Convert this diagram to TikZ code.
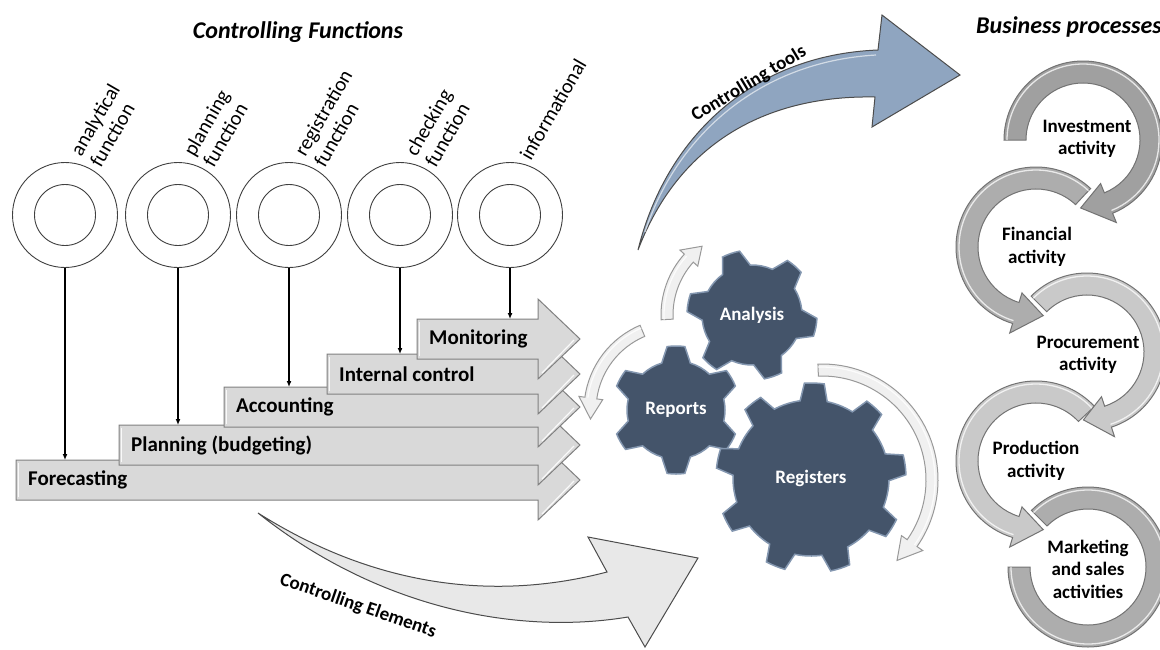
\documentclass[tikz,border=0pt]{standalone}
\usepackage{fontspec}
\setmainfont{Carlito}
\usetikzlibrary{arrows.meta}
\definecolor{gearblue}{HTML}{44546A}
\definecolor{gearedge}{HTML}{8497B0}
\definecolor{toolblue}{HTML}{8FA5C0}
\definecolor{barfill}{HTML}{D9D9D9}
\definecolor{baredge}{HTML}{808080}
\definecolor{ringdark}{HTML}{A0A0A0}
\definecolor{ringmid}{HTML}{ADADAD}
\definecolor{ringlight}{HTML}{C9C9C9}
\definecolor{elemfill}{HTML}{E8E8E8}

\tikzset{
  fcirc/.style={circle, draw=black!75, line width=0.9pt, minimum size=105pt, inner sep=0pt},
  icirc/.style={circle, draw=black!75, line width=0.9pt, minimum size=61pt, inner sep=0pt},
  conn/.style={draw=black, line width=1.2pt, -{Latex[length=6pt,width=5pt]}},
  flabel/.style={rotate=60, anchor=south west, align=left, inner sep=0pt, font=\fontsize{20.5}{22.5}\selectfont},
  barshape/.style={fill=barfill, draw=baredge, line width=1pt},
  bartext/.style={anchor=west, inner sep=0pt, font=\bfseries\fontsize{21}{25}\selectfont},
  gearbody/.style={fill=gearblue, draw=gearedge, line width=1.5pt},
  geartext/.style={text=white, inner sep=0pt, font=\bfseries\fontsize{19}{22}\selectfont},
  smallarr/.style={fill=gray!12, draw=gray!80, line width=1pt},
  ringshape/.style={fill=#1, draw=black!55, line width=1pt},
  ringtext/.style={align=center, inner sep=0pt, font=\bfseries\fontsize{19}{22.5}\selectfont},
  titletext/.style={inner sep=0pt, font=\bfseries\itshape\fontsize{24}{28}\selectfont},
  arrtext/.style={inner sep=0pt, font=\bfseries\fontsize{19}{22}\selectfont},
}

% step bar: #1 left, #2 top, #3 name, #4 text
\newcommand\stepbar[4]{%
  \filldraw[barshape] (#1,#2) -- (538,#2) -- (538,#2-20) -- (580,#2+20) -- (538,#2+60) -- (538,#2+40) -- (#1,#2+40) -- cycle;
  \draw[white, line width=1.5pt, opacity=.85] (#1+2.5,#2+3) -- (#1+2.5,#2+37);
  \draw[white, line width=1.2pt, opacity=.85] (542,#2+54) -- (574,#2+21);
  \node[bartext] (#3) at (#1+12,#2+20) {#4};
}

% curved band arrow: #1 cx, #2 cy, #3 r, #4 half width, #5 a1, #6 a2, #7 tip angle, #8 wing, #9 style
\newcommand\bandarrow[9]{%
  \begin{scope}[shift={(#1,#2)}]
    \filldraw[#9] ({#5}:{#3+#4}) arc[start angle={#5}, end angle={#6}, radius={#3+#4}]
      -- ({#6}:{#3+#4+#8}) -- ({#7}:{#3}) -- ({#6}:{#3-#4-#8}) -- ({#6}:{#3-#4})
      arc[start angle={#6}, end angle={#5}, radius={#3-#4}] -- cycle;
    \draw[white, line width=1.3pt, opacity=.75] ({#5}:{#3+#4-3}) arc[start angle={#5}, end angle={#6}, radius={#3+#4-3}];
  \end{scope}}

% gear: #1 cx, #2 cy, #3 N, #4 N-1, #5 ri, #6 ro, #7 offset, #8 base half angle, #9 tip half angle
\newcommand\gearshape[9]{%
  \begin{scope}[shift={(#1,#2)}]
    \filldraw[gearbody] ({#7-180/#3}:#5)
      \foreach \k in {0,...,#4}{
        arc[start angle={#7+\k*360/#3-180/#3}, end angle={#7+\k*360/#3-#8}, radius=#5]
        -- ({#7+\k*360/#3-#9}:#6)
        arc[start angle={#7+\k*360/#3-#9}, end angle={#7+\k*360/#3+#9}, radius=#6]
        -- ({#7+\k*360/#3+#8}:#5)
        arc[start angle={#7+\k*360/#3+#8}, end angle={#7+\k*360/#3+180/#3}, radius=#5]
      } -- cycle;
  \end{scope}}

\begin{document}
\begin{tikzpicture}[x=1pt, y=-1pt]
\useasboundingbox (0,0) rectangle (1160,649);
\fill[white] (0,0) rectangle (1160,649);

% ---------- titles ----------
\node[titletext] (ftitle) at (298,32) {Controlling Functions};
\node[titletext, anchor=west] (btitle) at (976,27) {Business processes};

% ---------- controlling tools arrow ----------
\filldraw[fill=toolblue, draw=black!70, line width=1pt]
  (638,250) .. controls (665,140) and (750,55) .. (878,50) -- (882,15) -- (960,75)
  -- (872,127) -- (875,97) .. controls (770,95) and (680,140) .. (638,250) -- cycle;
\draw[white, line width=1.2pt, opacity=.6] (645,232) .. controls (675,140) and (755,62) .. (876,55);
\node[arrtext, rotate=31] (toolslabel) at (749,84) {Controlling tools};

% ---------- controlling elements arrow ----------
\filldraw[fill=elemfill, draw=black!70, line width=1pt]
  (258,513) .. controls (380,590) and (500,600) .. (607,572) -- (588,537) -- (698,558)
  -- (645,647) -- (628,617) .. controls (520,635) and (380,610) .. (258,513) -- cycle;
\node[arrtext, rotate=-19] (elemlabel) at (358,606) {Controlling Elements};

% ---------- function circles ----------
\foreach \i/\cx in {1/65, 2/178, 3/289, 4/400, 5/510}{
  \node[fcirc] (c\i) at (\cx,215) {};
  \node[icirc] (c\i in) at (\cx,215) {};
}
\node[flabel] (l1) at (101,169) {analytical\\function};
\node[flabel] (l2) at (214,169) {planning\\function};
\node[flabel] (l3) at (325,169) {registration\\function};
\node[flabel] (l4) at (436,169) {checking\\function};
\node[flabel] (l5) at (531,162) {informational};

% ---------- step bars ----------
\stepbar{16}{460}{bar1}{Forecasting}
\stepbar{119}{425}{bar2}{Planning (budgeting)}
\stepbar{224}{387}{bar3}{Accounting}
\stepbar{327}{354}{bar4}{Internal control}
\stepbar{417}{319}{bar5}{Monitoring}

\coordinate (t1) at (65,460);
\coordinate (t2) at (178,425);
\coordinate (t3) at (289,387);
\coordinate (t4) at (400,354);
\coordinate (t5) at (510,319);
\foreach \i in {1,...,5}{ \draw[conn] (c\i.south) -- (t\i); }

% ---------- gears ----------
\gearshape{752}{315}{6}{5}{50}{65}{-109}{17}{8}
\gearshape{676}{410}{6}{5}{49}{64}{-90}{17}{8}
\gearshape{811}{478}{9}{8}{78}{95}{-88}{10}{6}
\node[geartext] (analysis) at (752,315) {Analysis};
\node[geartext] (reports) at (676,410) {Reports};
\node[geartext] (registers) at (811,478) {Registers};

% small curved arrows round the gears
\bandarrow{752}{315}{85}{6}{177}{222}{234}{6}{smallarr}
\bandarrow{676}{410}{86}{6}{247}{188}{174}{6}{smallarr}
\bandarrow{822}{480}{110}{6}{-92}{35}{47}{7}{smallarr}

% ---------- business process rings ----------
\begin{scope}[shift={(1088,567)}]
  \filldraw[ringshape=ringmid] (225:80) arc[start angle=225, end angle=540, radius=80]
    -- (540:58) arc[start angle=540, end angle=225, radius=58] -- cycle;
  \draw[white, line width=1.3pt, opacity=.75] (225:77) arc[start angle=225, end angle=540, radius=77];
\end{scope}
\bandarrow{1036}{461}{69}{11}{317}{107}{84}{10}{ringshape=ringlight}
\bandarrow{1087}{352}{68}{11}{225}{432}{453}{10}{ringshape=ringlight}
\bandarrow{1036}{247}{69}{11}{313}{107}{84}{10}{ringshape=ringmid}
\bandarrow{1083}{140}{68}{11}{180}{428}{452}{10}{ringshape=ringdark}

\node[ringtext] (invest) at (1087,139) {Investment\\activity};
\node[ringtext] (financ) at (1037,247) {Financial\\activity};
\node[ringtext] (procur) at (1088,355) {Procurement\\activity};
\node[ringtext] (produc) at (1036,461) {Production\\activity};
\node[ringtext] (market) at (1088,569) {Marketing\\and sales\\activities};
\end{tikzpicture}
\end{document}
